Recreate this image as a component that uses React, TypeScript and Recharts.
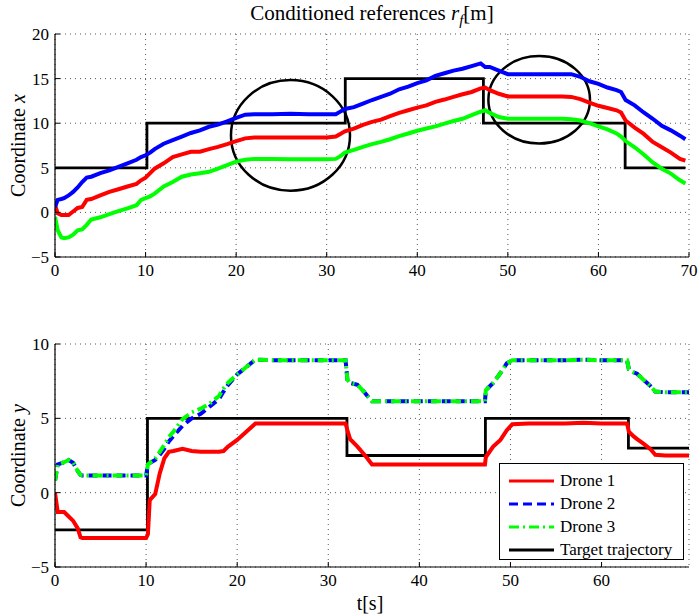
import React from 'react';
import { LineChart, Line, XAxis, YAxis, CartesianGrid, ReferenceArea, Legend, Label } from 'recharts';

const FONT = '"Liberation Serif", "Times New Roman", serif';

// ---- x coordinate (top panel) ----
const tTop = [
  0, 0.3, 0.7, 1, 1.5, 2, 2.5, 3, 3.5, 4,
  5, 6, 7, 8, 9, 9.5, 10, 10.5, 11, 12,
  13, 14, 15, 16, 17, 18, 19, 20, 21, 22,
  24, 26, 28, 30, 31, 31.5, 32, 33, 34, 35,
  36, 37, 38, 39, 40, 41, 42, 43, 44, 45,
  46, 47, 47.5, 48, 49, 50, 52, 54, 56, 57,
  58, 59, 60, 61, 62, 62.5, 63, 64, 65, 66,
  67, 68, 69, 69.6,
];
const xDrone1 = [
  0.8, -0.1, -0.3, -0.3, -0.3, 0.1, 0.5, 0.6, 1.4, 1.5,
  1.9, 2.3, 2.6, 2.9, 3.2, 3.6, 3.9, 4.4, 4.9, 5.5,
  6.2, 6.5, 6.8, 6.8, 7.1, 7.35, 7.65, 8.0, 8.3, 8.4,
  8.4, 8.4, 8.4, 8.4, 8.5, 8.8, 9.1, 9.4, 9.8, 10.15,
  10.4, 10.8, 11.15, 11.45, 11.75, 12.0, 12.4, 12.65, 12.95, 13.25,
  13.5, 13.9, 14.0, 13.7, 13.3, 13.0, 13.0, 13.0, 13.0, 12.95,
  12.7, 12.3, 11.95, 11.7, 11.45, 11.2, 10.3, 9.5, 8.8, 7.9,
  7.3, 6.7, 6.0, 5.8,
];
const xDrone2 = [
  0.6, 1.4, 1.5, 1.6, 1.9, 2.3, 2.8, 3.4, 3.9, 4.0,
  4.4, 4.7, 5.1, 5.5, 5.9, 6.2, 6.4, 6.7, 7.1, 7.7,
  8.1, 8.5, 8.9, 9.2, 9.6, 9.85, 10.2, 10.6, 10.95, 11.0,
  11.0, 11.05, 11.0, 11.0, 11.0, 11.3, 11.6, 11.8, 12.2, 12.6,
  12.95, 13.3, 13.8, 14.1, 14.5, 14.8, 15.3, 15.6, 15.9, 16.1,
  16.4, 16.7, 16.3, 16.3, 15.9, 15.5, 15.5, 15.5, 15.5, 15.5,
  15.2, 14.7, 14.4, 14.0, 13.7, 13.5, 12.6, 12.0, 11.2, 10.5,
  9.7, 9.2, 8.6, 8.2,
];
const xDrone3 = [
  -0.5, -2.0, -2.8, -2.9, -2.8, -2.5, -2.0, -1.9, -1.4, -0.8,
  -0.55, -0.2, 0.15, 0.45, 0.8, 1.4, 1.6, 1.8, 2.1, 2.9,
  3.4, 4.0, 4.25, 4.4, 4.55, 4.9, 5.3, 5.7, 5.9, 6.0,
  6.0, 5.95, 5.95, 5.95, 6.0, 6.3, 6.7, 7.0, 7.35, 7.65,
  7.9, 8.2, 8.55, 8.85, 9.15, 9.4, 9.65, 9.95, 10.25, 10.5,
  10.9, 11.3, 11.45, 11.15, 10.7, 10.5, 10.5, 10.5, 10.5, 10.45,
  10.3, 10.0, 9.65, 9.3, 8.85, 8.5, 8.0, 7.3, 6.5, 5.6,
  4.9, 4.35, 3.6, 3.25,
];
const tTargetX = [0, 10.15, 32.05, 47.3, 62.95, 69.6];
const xTarget = [5, 10, 15, 10, 5, 5];

// ---- y coordinate (bottom panel) ----
const tBot = [
  0, 0.3, 1, 1.5, 2, 2.5, 2.8, 3, 5, 7,
  9, 10, 10.2, 10.4, 11, 11.5, 12, 12.5, 13, 14,
  15, 16, 17, 18, 18.5, 19, 20, 21, 22, 24,
  26, 28, 30, 31.9, 32.1, 32.4, 33.2, 33.9, 34.3, 34.8,
  36, 38, 40, 42, 44, 46, 47.2, 47.3, 48.1, 48.9,
  49.6, 50.2, 52, 54, 56, 58, 60, 62, 62.8, 63,
  63.5, 63.9, 64.6, 65.4, 65.9, 67, 68, 69.6,
];
const yDrone1 = [
  0, -1.3, -1.3, -1.6, -1.9, -2.4, -3.0, -3.05, -3.05, -3.05,
  -3.05, -3.05, -2.8, -0.5, -0.1, 1.3, 2.3, 2.75, 2.8, 2.95,
  2.8, 2.75, 2.75, 2.75, 2.8, 3.1, 3.55, 4.1, 4.65, 4.65,
  4.65, 4.65, 4.65, 4.65, 4.2, 3.6, 3.1, 2.6, 2.3, 1.9,
  1.9, 1.9, 1.9, 1.9, 1.9, 1.9, 1.9, 2.4, 3.1, 3.55,
  4.2, 4.6, 4.65, 4.65, 4.65, 4.7, 4.65, 4.65, 4.65, 4.1,
  3.8, 3.6, 3.3, 2.9, 2.55, 2.5, 2.5, 2.5,
];
const yDrone2 = [
  0.8, 1.9, 2.05, 2.2, 2.0, 1.45, 1.2, 1.15, 1.15, 1.15,
  1.15, 1.15, 1.9, 2.0, 2.2, 2.55, 2.95, 3.45, 3.8, 4.5,
  5.0, 5.3, 5.8, 6.3, 6.8, 7.25, 7.95, 8.45, 8.95, 8.9,
  8.9, 8.9, 8.9, 8.9, 7.6, 7.38, 7.26, 6.8, 6.5, 6.15,
  6.15, 6.15, 6.15, 6.15, 6.15, 6.15, 6.15, 6.9, 7.38, 8.05,
  8.7, 8.9, 8.9, 8.9, 8.9, 8.95, 8.9, 8.9, 8.9, 8.3,
  8.1, 8.0, 7.6, 7.15, 6.8, 6.75, 6.75, 6.75,
];
const yDrone3 = [
  0.8, 1.9, 2.05, 2.2, 2.0, 1.45, 1.2, 1.15, 1.15, 1.15,
  1.15, 1.15, 1.9, 2.0, 2.3, 2.75, 3.2, 3.75, 4.1, 4.95,
  5.4, 5.65, 6.0, 6.5, 7.0, 7.4, 7.95, 8.45, 8.95, 8.9,
  8.9, 8.9, 8.9, 8.9, 7.6, 7.38, 7.26, 6.8, 6.5, 6.15,
  6.15, 6.15, 6.15, 6.15, 6.15, 6.15, 6.15, 6.9, 7.38, 8.05,
  8.7, 8.9, 8.9, 8.9, 8.9, 8.95, 8.9, 8.9, 8.9, 8.3,
  8.1, 8.0, 7.6, 7.15, 6.8, 6.75, 6.75, 6.75,
];
const tTargetY = [0, 10.15, 32.05, 47.25, 62.95, 69.6];
const yTarget = [-2.5, 5, 2.5, 5, 3, 3];

// highlighted regions (data units): [x1, x2, y1, y2]
const highlightA = [19.43, 32.57, 2.43, 14.83];
const highlightB = [47.85, 59.07, 7.72, 17.52];

const xTicksTop = [0, 10, 20, 30, 40, 50, 60, 70];
const xTicksBot = [0, 10, 20, 30, 40, 50, 60];
const yTicksTop = [-5, 0, 5, 10, 15, 20];
const yTicksBot = [-5, 0, 5, 10];

const series = [
  { name: 'Drone 1', color: '#ff0000', dash: undefined },
  { name: 'Drone 2', color: '#0000ff', dash: '9 5' },
  { name: 'Drone 3', color: '#00ff00', dash: '10 4 2 4' },
  { name: 'Target trajectory', color: '#000000', dash: undefined },
];

const toPoints = (ts: number[], vs: number[]) => ts.map((t, i) => ({ t, v: vs[i] }));

const fmt = (v: number) => (v < 0 ? `\u2212${Math.abs(v)}` : `${v}`);

const BottomTick = (p: any) => (
  <g>
    <line x1={p.x} x2={p.x} y1={p.y} y2={p.y - 5} stroke="#000" strokeWidth={1} />
    <text x={p.x} y={p.y + 19} textAnchor="middle" fontSize={17} fontFamily={FONT} fill="#000">
      {fmt(p.payload.value)}
    </text>
  </g>
);
const TopTick = (p: any) => (
  <line x1={p.x} x2={p.x} y1={p.y} y2={p.y + 5} stroke="#000" strokeWidth={1} />
);
const LeftTick = (p: any) => (
  <g>
    <line x1={p.x} x2={p.x + 5} y1={p.y} y2={p.y} stroke="#000" strokeWidth={1} />
    <text x={p.x - 6} y={p.y + 6} textAnchor="end" fontSize={17} fontFamily={FONT} fill="#000">
      {fmt(p.payload.value)}
    </text>
  </g>
);
const RightTick = (p: any) => (
  <line x1={p.x} x2={p.x - 5} y1={p.y} y2={p.y} stroke="#000" strokeWidth={1} />
);

const yLabel = (letter: string) => (p: any) => {
  const vb = p.viewBox;
  const cx = vb.x + 18;
  const cy = vb.y + vb.height / 2;
  return (
    <text x={cx} y={cy} transform={`rotate(-90, ${cx}, ${cy})`} textAnchor="middle"
      dominantBaseline="central" fontSize={20} fontFamily={FONT} fill="#000">
      Coordinate <tspan fontStyle="italic">{letter}</tspan>
    </text>
  );
};

const Ellipse = (p: any) => (
  <ellipse cx={p.x + p.width / 2} cy={p.y + p.height / 2} rx={p.width / 2} ry={p.height / 2}
    fill="none" stroke="#000" strokeWidth={2.5} />
);

const LegendBox = () => (
  <div style={{
    border: '1.3px solid #000', background: '#fff', width: 185, height: 97, boxSizing: 'border-box',
    padding: '5px 0 0 8px', fontFamily: FONT, fontSize: 17, color: '#000',
  }}>
    {series.map((s) => (
      <div key={s.name} style={{ display: 'flex', alignItems: 'center', height: 23 }}>
        <svg width={47} height={10} style={{ marginRight: 5 }}>
          <line x1={1} x2={46} y1={5} y2={5} stroke={s.color} strokeWidth={3} strokeDasharray={s.dash} />
        </svg>
        <span>{s.name}</span>
      </div>
    ))}
  </div>
);

const frameAxes = (xDomain: number[], xTicks: number[], yDomain: number[], yTicks: number[]) => [
  <XAxis key="xt" xAxisId="top" orientation="top" type="number" domain={xDomain} ticks={xTicks}
    height={0} tickSize={0} tickMargin={0} tick={<TopTick />} tickLine={false}
    axisLine={{ stroke: '#000', strokeWidth: 1 }} allowDataOverflow />,
  <YAxis key="yr" yAxisId="right" orientation="right" type="number" domain={yDomain} ticks={yTicks}
    width={0} tickSize={0} tickMargin={0} tick={<RightTick />} tickLine={false}
    axisLine={{ stroke: '#000', strokeWidth: 1 }} allowDataOverflow />,
];

export default function App() {
  return (
    <div style={{ position: 'absolute', left: 0, top: 0, width: 698, height: 616, background: '#fff' }}>
      <div style={{
        position: 'absolute', left: 55, top: 0, width: 634, textAlign: 'center',
        fontFamily: FONT, fontSize: 21, color: '#000', lineHeight: '26px',
      }}>
        Conditioned references <i>r</i><sub style={{ fontSize: 15 }}><i>f</i></sub>[m]
      </div>

      <div style={{ position: 'absolute', left: 0, top: 0 }}>
        <LineChart width={698} height={300} margin={{ top: 34, right: 9, bottom: 0, left: 0 }}>
          <CartesianGrid stroke="#444" strokeDasharray="1 4" strokeWidth={0.9} />
          <XAxis type="number" dataKey="t" domain={[0, 70]} ticks={xTicksTop} height={43}
            tickSize={0} tickMargin={0} tick={<BottomTick />} tickLine={false}
            axisLine={{ stroke: '#000', strokeWidth: 1.2 }} allowDataOverflow />
          <YAxis type="number" domain={[-5, 20]} ticks={yTicksTop} width={55}
            tickSize={0} tickMargin={0} tick={<LeftTick />} tickLine={false}
            axisLine={{ stroke: '#000', strokeWidth: 1.2 }} allowDataOverflow>
            <Label content={yLabel('x')} />
          </YAxis>
          {frameAxes([0, 70], xTicksTop, [-5, 20], yTicksTop)}
          <Line data={toPoints(tTargetX, xTarget)} dataKey="v" type="stepAfter" stroke="#000"
            strokeWidth={2.8} dot={false} isAnimationActive={false} />
          <Line data={toPoints(tTop, xDrone1)} dataKey="v" stroke="#ff0000" strokeWidth={4}
            dot={false} isAnimationActive={false} />
          <Line data={toPoints(tTop, xDrone2)} dataKey="v" stroke="#0000ff" strokeWidth={4}
            dot={false} isAnimationActive={false} />
          <Line data={toPoints(tTop, xDrone3)} dataKey="v" stroke="#00ff00" strokeWidth={4}
            dot={false} isAnimationActive={false} />
          <ReferenceArea x1={highlightA[0]} x2={highlightA[1]} y1={highlightA[2]} y2={highlightA[3]}
            shape={<Ellipse />} />
          <ReferenceArea x1={highlightB[0]} x2={highlightB[1]} y1={highlightB[2]} y2={highlightB[3]}
            shape={<Ellipse />} />
        </LineChart>
      </div>

      <div style={{ position: 'absolute', left: 0, top: 310 }}>
        <LineChart width={698} height={306} margin={{ top: 34, right: 9, bottom: 0, left: 0 }}>
          <CartesianGrid stroke="#444" strokeDasharray="1 4" strokeWidth={0.9} />
          <XAxis type="number" dataKey="t" domain={[0, 69.6]} ticks={xTicksBot} height={49}
            tickSize={0} tickMargin={0} tick={<BottomTick />} tickLine={false}
            axisLine={{ stroke: '#000', strokeWidth: 1.2 }} allowDataOverflow>
            <Label content={(p: any) => (
              <text x={p.viewBox.x + p.viewBox.width / 2 - 2} y={p.viewBox.y + 43} textAnchor="middle"
                fontSize={20} fontFamily={FONT} fill="#000">t[s]</text>
            )} />
          </XAxis>
          <YAxis type="number" domain={[-5, 10]} ticks={yTicksBot} width={55}
            tickSize={0} tickMargin={0} tick={<LeftTick />} tickLine={false}
            axisLine={{ stroke: '#000', strokeWidth: 1.2 }} allowDataOverflow>
            <Label content={yLabel('y')} />
          </YAxis>
          {frameAxes([0, 69.6], xTicksBot, [-5, 10], yTicksBot)}
          <Line data={toPoints(tTargetY, yTarget)} dataKey="v" type="stepAfter" stroke="#000"
            strokeWidth={2.8} dot={false} isAnimationActive={false} />
          <Line data={toPoints(tBot, yDrone1)} dataKey="v" stroke="#ff0000" strokeWidth={4}
            dot={false} isAnimationActive={false} />
          <Line data={toPoints(tBot, yDrone2)} dataKey="v" stroke="#0000ff" strokeWidth={4}
            strokeDasharray="9 5" dot={false} isAnimationActive={false} />
          <Line data={toPoints(tBot, yDrone3)} dataKey="v" stroke="#00ff00" strokeWidth={4}
            strokeDasharray="10 4 2 4" dot={false} isAnimationActive={false} />
          <Legend layout="vertical" align="center" verticalAlign="middle" content={<LegendBox />}
            wrapperStyle={{ left: 499, top: 153, width: 185, height: 97 }} />
        </LineChart>
      </div>
    </div>
  );
}
